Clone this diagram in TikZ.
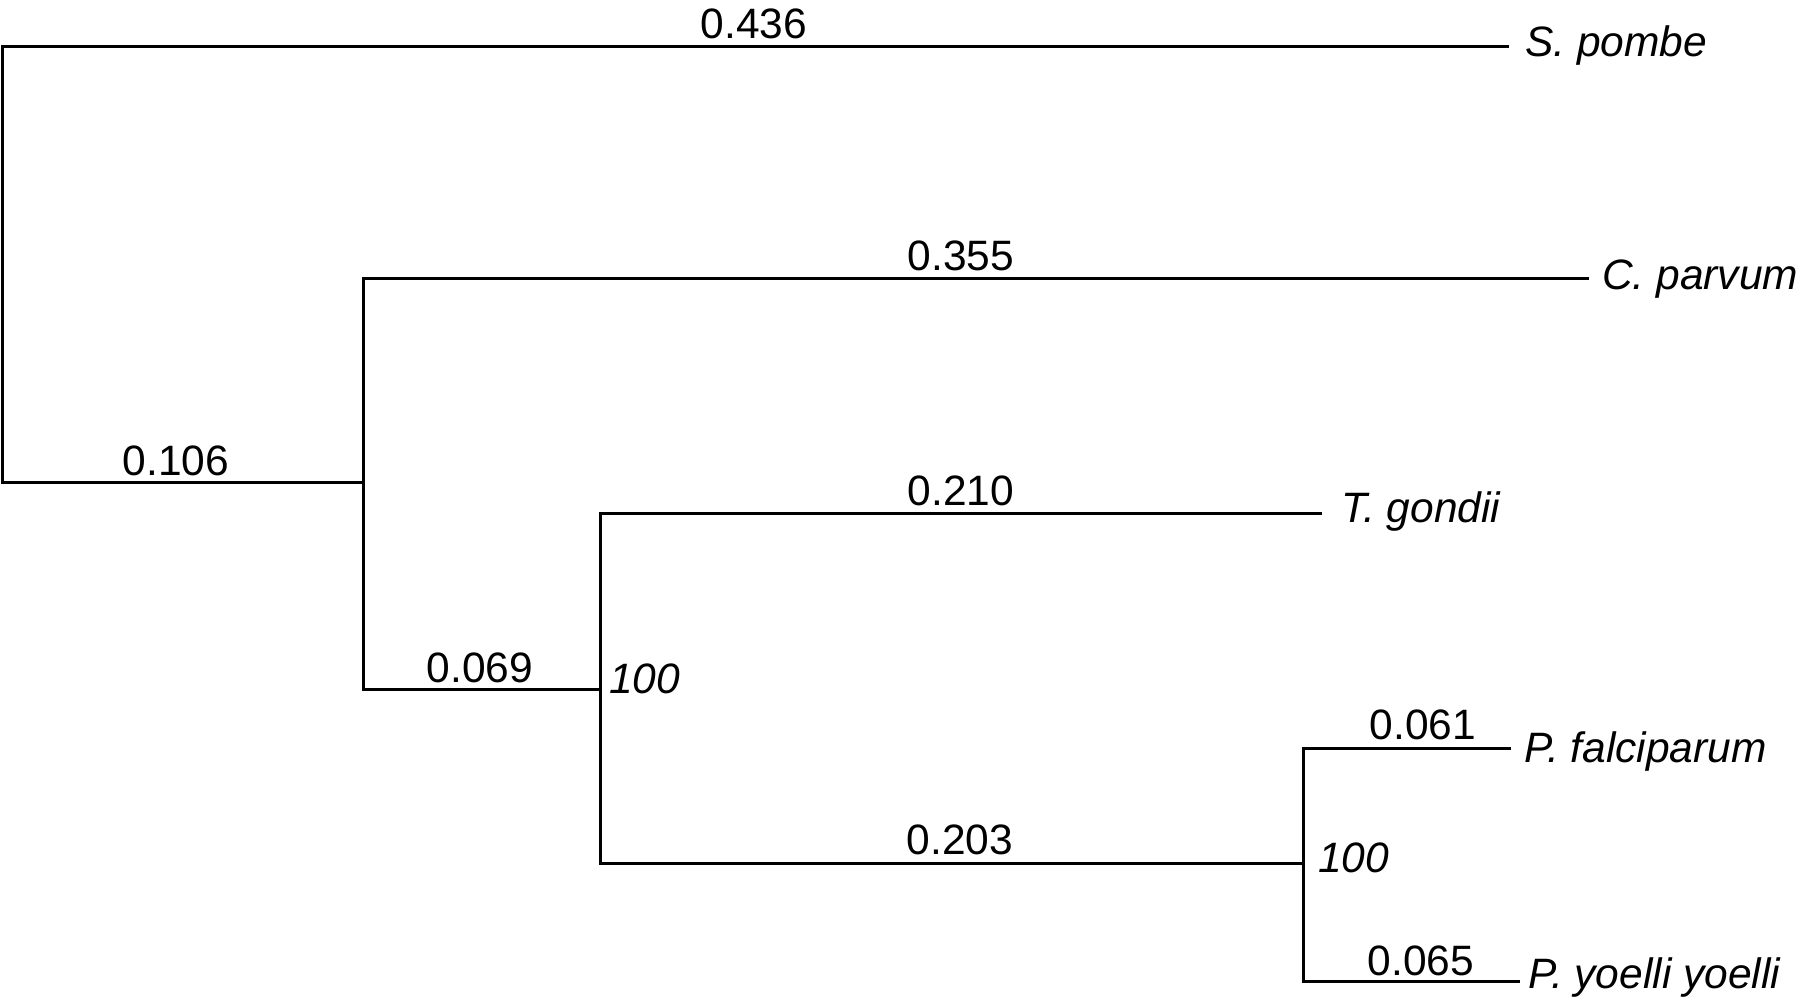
\documentclass[tikz,border=0pt]{standalone}
\usepackage{fontspec}
\setmainfont{Liberation Sans}
\begin{document}
\begin{tikzpicture}[x=1pt,y=-1pt,
  branch/.style={line width=3pt, line join=miter, line cap=rect},
  blen/.style={anchor=base, inner sep=0pt, font=\fontsize{42.5pt}{50pt}\selectfont},
  boot/.style={anchor=base west, inner sep=0pt, font=\fontsize{42.5pt}{50pt}\selectfont\itshape},
  leaf/.style={anchor=base west, inner sep=0pt, font=\fontsize{42.5pt}{50pt}\selectfont\itshape}]
\useasboundingbox (0,0) rectangle (1800,1003);
% internal coordinates
\coordinate (a1) at (2,47);
\coordinate (a2) at (2,482);
\coordinate (b1) at (363,279);
\coordinate (bm) at (363,482);
\coordinate (b2) at (363,689);
\coordinate (d1) at (600,513);
\coordinate (dm) at (600,689);
\coordinate (d2) at (600,863);
\coordinate (e1) at (1303,748);
\coordinate (em) at (1303,863);
\coordinate (e2) at (1303,981);
% leaf ends
\coordinate (s) at (1507,47);
\coordinate (c) at (1587,279);
\coordinate (t) at (1320,513);
\coordinate (pf) at (1509,748);
\coordinate (py) at (1518,981);
% branches
\draw[branch] (s) -- (a1) -- (a2) -- (bm);
\draw[branch] (c) -- (b1) -- (b2) -- (dm);
\draw[branch] (t) -- (d1) -- (d2) -- (em);
\draw[branch] (pf) -- (e1) -- (e2) -- (py);
% leaf labels
\node[leaf] (Ssp) at (1525,57) {S. pombe};
\node[leaf] (Csp) at (1602,290) {C. parvum};
\node[leaf] (Tsp) at (1341,522) {T. gondii};
\node[leaf] (Pfsp) at (1524,762) {P. falciparum};
\node[leaf] (Pysp) at (1528,988) {P. yoelli yoelli};
% branch lengths
\node[blen] (l1) at (754,39) {0.436};
\node[blen] (l2) at (961,271) {0.355};
\node[blen] (l3) at (176,475) {0.106};
\node[blen] (l4) at (961,505) {0.210};
\node[blen] (l5) at (480,682) {0.069};
\node[blen] (l6) at (960,854) {0.203};
\node[blen] (l7) at (1423,739) {0.061};
\node[blen] (l8) at (1421,975) {0.065};
% bootstrap values
\node[boot] (bs1) at (609,693) {100};
\node[boot] (bs2) at (1318,872) {100};
\end{tikzpicture}
\end{document}
